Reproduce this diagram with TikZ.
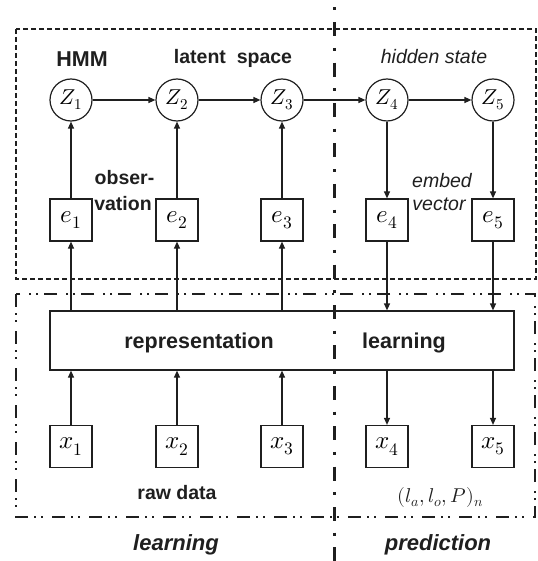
\documentclass[tikz,border=0pt]{standalone}
\usepackage{fontspec}
\usepackage{unicode-math}
\setmainfont{Liberation Sans}
\usetikzlibrary{arrows.meta}

\definecolor{ink}{gray}{0.12}

\tikzset{
  inkline/.style={draw=ink, line width=1.2pt},
  state/.style={inkline, circle, minimum size=42pt, inner sep=0pt,
                font=\fontsize{21.5}{24}\selectfont},
  vecbox/.style={inkline, rectangle, minimum size=42pt, inner sep=0pt,
                 font=\fontsize{25}{28}\selectfont},
  flow/.style={draw=ink, line width=1.2pt, -{Triangle[length=7pt,width=6pt]}},
  boldlbl/.style={text=ink, inner sep=0pt, anchor=base,
                  font=\fontsize{19.5}{22}\selectfont\bfseries},
  bigbold/.style={text=ink, inner sep=0pt, anchor=base,
                  font=\fontsize{21.5}{24}\selectfont\bfseries},
  itlbl/.style={text=ink, inner sep=0pt, anchor=base,
                font=\fontsize{19.5}{22}\selectfont\itshape},
  phaselbl/.style={text=ink, inner sep=0pt, anchor=base,
                   font=\fontsize{22}{24}\selectfont\bfseries\itshape},
  hmmframe/.style={draw=ink, line width=1.1pt, dash pattern=on 5pt off 3pt},
  repframe/.style={draw=ink, line width=1.1pt,
                   dash pattern=on 13pt off 6pt on 2pt off 5pt on 2pt off 9pt},
  splitline/.style={draw=ink, line width=3pt,
                    dash pattern=on 3pt off 11.7pt on 14pt off 11.7pt},
}

\begin{document}
\begin{tikzpicture}[x=1pt, y=-1pt]
  \useasboundingbox (0,0) rectangle (537,561);

  % frames
  \draw[hmmframe] (16,29) rectangle (536,279);
  \draw[repframe] (16,294) rectangle (535,517);

  % learning / prediction divider
  \coordinate (divtop) at (334.5,7.5);
  \coordinate (divbot) at (334.5,561);
  \draw[splitline] (divtop) -- (divbot);

  % hidden states
  \node[state] (z1) at (71,100)  {$Z_1$};
  \node[state] (z2) at (177,100) {$Z_2$};
  \node[state] (z3) at (282,100) {$Z_3$};
  \node[state] (z4) at (387,100) {$Z_4$};
  \node[state] (z5) at (493,100) {$Z_5$};

  % embedding vectors
  \node[vecbox] (e1) at (71,220)  {$e_1$};
  \node[vecbox] (e2) at (177,220) {$e_2$};
  \node[vecbox] (e3) at (282,220) {$e_3$};
  \node[vecbox] (e4) at (387,220) {$e_4$};
  \node[vecbox] (e5) at (493,220) {$e_5$};

  % representation learning block
  \node[inkline, rectangle, minimum width=464pt, minimum height=59pt, inner sep=0pt]
    (rep) at (282,340.5) {};
  \node[bigbold] (reptxt) at (199,348) {representation};
  \node[bigbold] (learntxt) at (404,348) {learning};

  % raw inputs
  \node[vecbox] (x1) at (71,446.5)  {$x_1$};
  \node[vecbox] (x2) at (177,446.5) {$x_2$};
  \node[vecbox] (x3) at (282,446.5) {$x_3$};
  \node[vecbox] (x4) at (387,446.5) {$x_4$};
  \node[vecbox] (x5) at (493,446.5) {$x_5$};

  % transitions
  \draw[flow] (z1) -- (z2);
  \draw[flow] (z2) -- (z3);
  \draw[flow] (z3) -- (z4);
  \draw[flow] (z4) -- (z5);

  % observations / emissions
  \draw[flow] (e1) -- (z1);
  \draw[flow] (e2) -- (z2);
  \draw[flow] (e3) -- (z3);
  \draw[flow] (z4) -- (e4);
  \draw[flow] (z5) -- (e5);

  % representation to and from embeddings
  \draw[flow] (rep.north -| e1) -- (e1);
  \draw[flow] (rep.north -| e2) -- (e2);
  \draw[flow] (rep.north -| e3) -- (e3);
  \draw[flow] (e4) -- (e4 |- rep.north);
  \draw[flow] (e5) -- (e5 |- rep.north);

  % raw data to and from representation
  \draw[flow] (x1) -- (x1 |- rep.south);
  \draw[flow] (x2) -- (x2 |- rep.south);
  \draw[flow] (x3) -- (x3 |- rep.south);
  \draw[flow] (rep.south -| x4) -- (x4);
  \draw[flow] (rep.south -| x5) -- (x5);

  % labels
  \node[bigbold] (hmm) at (82,66.5) {HMM};
  \node[boldlbl] (latent) at (233,63.5) {latent~ space};
  \node[itlbl] (hidden) at (434,64) {hidden state};
  \node[boldlbl] (obsA) at (124.5,185) {obser-};
  \node[boldlbl] (obsB) at (123,210) {vation};
  \node[itlbl] (embA) at (442,188) {embed};
  \node[itlbl] (embB) at (439,211) {vector};
  \node[boldlbl] (raw) at (177,499) {raw data};
  \node[text=ink, inner sep=0pt, anchor=base, font=\fontsize{20}{22}\selectfont]
    (tuple) at (440.5,502) {$(l_a,l_o,P)_n$};
  \node[phaselbl] (learnphase) at (176,550) {learning};
  \node[phaselbl] (predphase) at (438,550) {prediction};
\end{tikzpicture}
\end{document}
